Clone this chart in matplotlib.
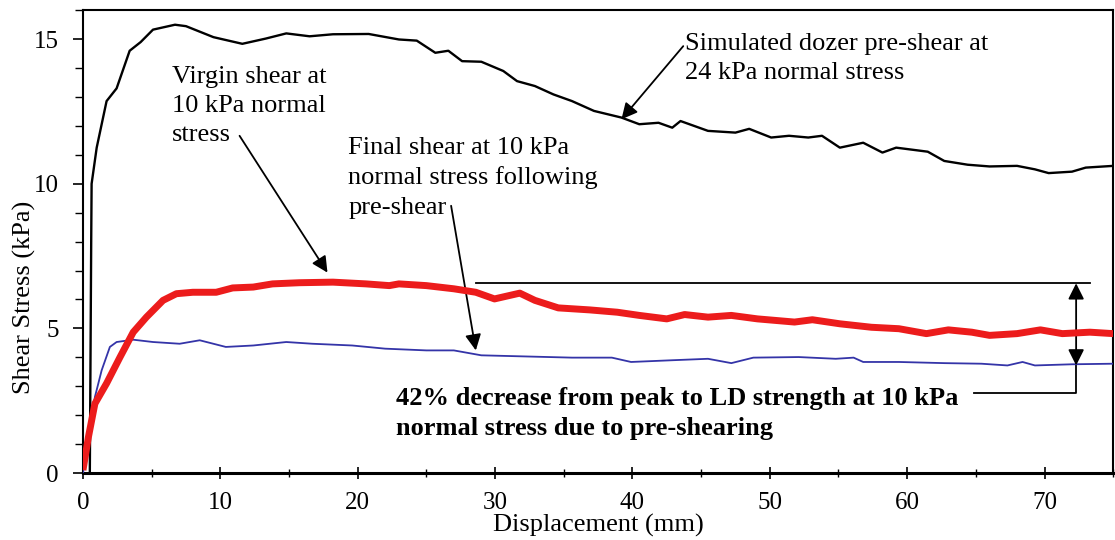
import matplotlib.pyplot as plt
from matplotlib.ticker import MultipleLocator

plt.rcParams['font.family'] = ['Liberation Serif', 'DejaVu Serif']

# simulated dozer pre-shear, 24 kPa normal stress
pre_x = [0.5, 0.6, 0.63, 1.0, 1.72, 2.45, 3.4, 4.2, 5.1, 6.7, 7.5, 9.5, 11.6, 13.3,
         14.8, 16.5, 18.2, 20.8, 23.0, 24.3, 25.65, 26.6, 27.6, 29.0, 30.6, 31.6,
         32.9, 34.25, 35.6, 37.2, 39.2, 40.5, 41.9, 42.9, 43.5, 45.5, 47.5, 48.5,
         50.1, 51.4, 52.8, 53.8, 55.1, 56.8, 58.2, 59.2, 61.5, 62.7, 64.4, 66.0,
         68.0, 69.3, 70.3, 72.0, 73.0, 75.0]
pre_y = [0, 8, 10.0, 11.25, 12.86, 13.3, 14.6, 14.9, 15.33, 15.5, 15.45, 15.07,
         14.84, 15.02, 15.2, 15.1, 15.17, 15.18, 14.99, 14.95, 14.53, 14.6, 14.24,
         14.22, 13.9, 13.55, 13.38, 13.09, 12.86, 12.52, 12.29, 12.06, 12.11,
         11.94, 12.17, 11.83, 11.77, 11.9, 11.6, 11.66, 11.6, 11.66, 11.25, 11.42,
         11.08, 11.25, 11.11, 10.79, 10.66, 10.6, 10.62, 10.5, 10.37, 10.42, 10.56,
         10.62]

# virgin shear, 10 kPa normal stress
virgin_x = [0, 0.4, 0.87, 1.72, 2.69, 3.66, 4.62, 5.83, 6.8, 8.0, 9.7, 10.9, 12.4,
            13.8, 15.75, 18.2, 20.6, 22.3, 23.0, 25.0, 27.0, 28.6, 29.96, 31.8,
            32.9, 34.6, 36.9, 38.9, 40.5, 42.5, 43.8, 45.5, 47.2, 49.1, 51.8, 53.1,
            55.1, 57.4, 59.4, 61.4, 63.0, 64.7, 66.0, 68.0, 69.7, 71.3, 73.3, 75.0]
virgin_y = [0.1, 1.25, 2.4, 3.1, 4.0, 4.87, 5.39, 5.97, 6.2, 6.25, 6.25, 6.4, 6.43,
            6.54, 6.58, 6.6, 6.54, 6.48, 6.54, 6.48, 6.37, 6.25, 6.02, 6.22, 5.97,
            5.71, 5.64, 5.56, 5.45, 5.33, 5.48, 5.39, 5.45, 5.33, 5.22, 5.3, 5.16,
            5.04, 4.99, 4.82, 4.95, 4.87, 4.76, 4.82, 4.95, 4.82, 4.87, 4.82]

# final shear at 10 kPa after pre-shear
final_x = [0, 0.4, 0.87, 1.36, 1.96, 2.45, 3.66, 5.1, 7.04, 8.5, 10.4, 12.4, 14.8,
           16.7, 19.6, 22.0, 23.0, 25.0, 27.0, 29.0, 32.3, 35.6, 38.5, 39.9, 42.9,
           45.5, 47.2, 48.8, 52.1, 54.8, 56.1, 56.8, 59.4, 62.7, 65.4, 67.3, 68.4,
           69.3, 72.0, 75.0]
final_y = [0, 1.2, 2.63, 3.55, 4.36, 4.53, 4.61, 4.53, 4.47, 4.59, 4.36, 4.41, 4.53,
           4.47, 4.41, 4.30, 4.28, 4.24, 4.24, 4.07, 4.03, 3.99, 3.99, 3.84, 3.9,
           3.95, 3.8, 3.99, 4.01, 3.95, 3.99, 3.84, 3.84, 3.8, 3.78, 3.72, 3.84,
           3.72, 3.76, 3.78]

peak_level = 6.56
ld_level = 3.72

fig = plt.figure(figsize=(11.15, 5.40), dpi=100)
ax = fig.add_axes([0.0744, 0.124, 0.924, 0.857])

ax.plot(pre_x, pre_y, color='black', lw=1.7, zorder=2)
ax.plot(final_x, final_y, color='#3434a8', lw=1.3, zorder=3)
ax.plot(virgin_x, virgin_y, color='#ec1c1c', lw=5, zorder=4, solid_capstyle='butt')

ax.set_xlim(0, 75)
ax.set_ylim(0, 16)
ax.xaxis.set_major_locator(MultipleLocator(10))
ax.xaxis.set_minor_locator(MultipleLocator(5))
ax.yaxis.set_major_locator(MultipleLocator(5))
ax.yaxis.set_minor_locator(MultipleLocator(1))
ax.tick_params(axis='y', which='major', direction='out', length=7.5, width=1.2,
               labelsize=18, pad=10)
ax.tick_params(axis='y', which='minor', direction='out', length=6, width=1.0)
ax.tick_params(axis='x', which='major', direction='inout', length=8, width=1.2,
               labelsize=18, pad=10)
ax.tick_params(axis='x', which='minor', direction='inout', length=6, width=1.0)
for s in ['left', 'top', 'right']:
    ax.spines[s].set_linewidth(1.5)
ax.spines['bottom'].set_linewidth(2.2)

ax.set_xlabel('Displacement (mm)', fontsize=19, va='top')
ax.xaxis.set_label_coords(0.5, -0.088)
ax.set_ylabel('Shear Stress (kPa)', fontsize=19)
ax.yaxis.set_label_coords(-0.046, 0.38)

arrow = dict(arrowstyle='-|>', color='black', lw=1.3, mutation_scale=24,
             shrinkA=0, shrinkB=0)
fs = 19
ls = 1.42

ax.annotate('', xy=(17.8, 6.93), xytext=(11.4, 11.66), arrowprops=arrow)
ax.text(6.46, 14.08, 'Virgin shear at\n10 kPa normal\nstress', fontsize=fs,
        va='top', ha='left', linespacing=ls)

ax.annotate('', xy=(28.6, 4.24), xytext=(26.8, 9.24), arrowprops=arrow)
ax.text(19.3, 11.62, 'Final shear at 10 kPa\nnormal stress following\npre-shear',
        fontsize=fs, va='top', ha='left', linespacing=ls)

ax.annotate('', xy=(39.2, 12.23), xytext=(43.7, 14.76), arrowprops=arrow)
ax.text(43.8, 15.22, 'Simulated dozer pre-shear at\n24 kPa normal stress',
        fontsize=fs, va='top', ha='left', linespacing=ls)

# peak line and double arrow to LD strength
ax.plot([28.6, 73.3], [peak_level, peak_level], color='black', lw=1.3)
ax.annotate('', xy=(72.3, ld_level), xytext=(72.3, peak_level),
            arrowprops=dict(arrowstyle='<|-|>', color='black', lw=1.3,
                            mutation_scale=24, shrinkA=0, shrinkB=0))
ax.plot([64.9, 72.3, 72.3], [2.76, 2.76, ld_level], color='black', lw=1.3)
ax.text(22.8, 2.98, '42% decrease from peak to LD strength at 10 kPa\n'
        'normal stress due to pre-shearing', fontsize=fs, fontweight='bold',
        va='top', ha='left', linespacing=ls)

fig.savefig('out.png', dpi=100)
